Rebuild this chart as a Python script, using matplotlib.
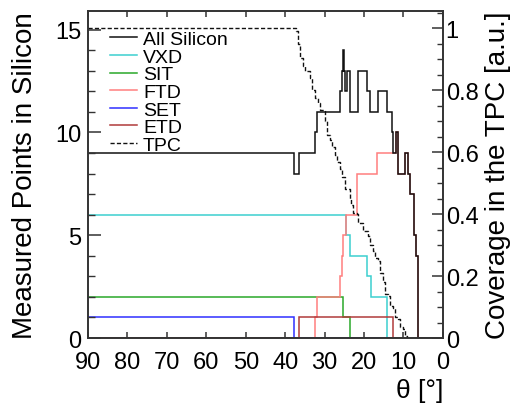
from __future__ import annotations

import matplotlib

matplotlib.use("Agg")
import matplotlib.pyplot as plt
from matplotlib.ticker import MultipleLocator

plt.rcParams["font.family"] = ["Liberation Sans", "DejaVu Sans"]

# step edges in theta (deg, decreasing) and hit counts for each bin
silicon_edges = [90, 37.8, 36.6, 32.4, 32.0, 26.1, 25.7, 25.4, 25.2, 24.8, 24.4, 23.6, 21.6,
                 19.3, 18.5, 16.5, 14.3, 13.0, 12.7, 11.9, 11.5, 11.3, 9.6, 8.9, 8.4, 7.3,
                 6.8, 6.4, 0]
silicon_hits = [9, 8, 9, 10, 11, 12, 13, 14, 13, 12, 13, 11, 13, 12, 11, 12, 11, 10, 9, 10,
                9, 8, 9, 8, 7, 5, 4, 0]

vxd_edges = [90, 24.7, 23.6, 19.3, 18.3, 14.1, 13.0]
vxd_hits = [6, 5, 4, 3, 2, 0]

sit_edges = [90, 25.4, 23.6, 13.0]
sit_hits = [2, 1, 0]

ftd_edges = [90, 32.4, 32.0, 26.1, 25.7, 25.3, 24.6, 21.9, 16.8, 11.9, 11.5, 11.3, 9.6, 8.9,
             8.4, 7.3, 6.8, 6.4, 5.0]
ftd_hits = [0, 1, 2, 3, 4, 5, 6, 8, 9, 10, 9, 8, 9, 8, 7, 5, 4, 0]

set_edges = [90, 37.7, 13.0]
set_hits = [1, 0]

etd_edges = [90, 36.5, 12.7, 9.6]
etd_hits = [0, 1, 0]

tpc_theta = [90, 37.3, 36.7, 36.2, 35.4, 35.0, 33.7, 33.3, 32.4, 31.6, 31.2, 29.9, 29.5, 28.6,
             28.2, 27.4, 26.9, 26.1, 25.7, 24.8, 23.6, 23.2, 22.7, 21.9, 21.5, 20.2, 18.9,
             18.5, 17.7, 17.2, 16.4, 16.0, 15.1, 14.7, 13.8, 13.4, 12.6, 12.2, 11.3, 10.9,
             10.1, 9.6, 9.2, 8.5]
tpc_coverage = [1.0, 0.99, 0.95, 0.905, 0.88, 0.862, 0.84, 0.80, 0.776, 0.76, 0.735, 0.70,
                0.655, 0.64, 0.618, 0.59, 0.57, 0.545, 0.52, 0.48, 0.45, 0.43, 0.405, 0.40,
                0.37, 0.345, 0.33, 0.30, 0.28, 0.26, 0.25, 0.21, 0.18, 0.142, 0.137, 0.104,
                0.098, 0.067, 0.06, 0.035, 0.03, 0.007, 0.0, 0.0]

right_ticks = [0, 0.2, 0.4, 0.6, 0.8, 1.0]
right_labels = ["0", "0.2", "0.4", "0.6", "0.8", "1"]

SPINE = "#333333"


def _stairs(ax, edges, values, color, label, lw=1.1):
  return ax.stairs(values, edges, baseline=None, color=color, linewidth=lw, label=label)


def main() -> None:
  fig = plt.figure(figsize=(5.12, 4.14), dpi=100)
  ax = fig.add_axes([0.172, 0.181, 0.693, 0.790])

  h_vxd = _stairs(ax, vxd_edges, vxd_hits, "#3ccfcf", "VXD")
  h_sit = _stairs(ax, sit_edges, sit_hits, "#2aa82a", "SIT")
  h_ftd = _stairs(ax, ftd_edges, ftd_hits, "#ff7f7f", "FTD")
  h_set = _stairs(ax, set_edges, set_hits, "#2f2fff", "SET")
  h_etd = _stairs(ax, etd_edges, etd_hits, "#b03a3a", "ETD")
  h_all = _stairs(ax, silicon_edges, silicon_hits, "#111111", "All Silicon")

  ax.set_xlim(90, 0)
  ax.set_ylim(0, 15.9)
  ax.set_xticks(range(90, -1, -10))
  ax.set_yticks([0, 5, 10, 15])
  ax.yaxis.set_minor_locator(MultipleLocator(1))
  ax.tick_params(axis="x", which="both", direction="in", top=True, length=4, width=1.1,
                 pad=9, labelsize=17, color=SPINE)
  ax.tick_params(axis="y", which="major", direction="in", length=9, width=1.1, pad=5,
                 labelsize=17, color=SPINE)
  ax.tick_params(axis="y", which="minor", direction="in", length=5, width=1.0, color=SPINE)
  ax.set_ylabel("Measured Points in Silicon", fontsize=20, labelpad=12)
  ax.set_xlabel("θ [°]", fontsize=19, loc="right", labelpad=4)

  ax2 = ax.twinx()
  (h_tpc,) = ax2.plot(tpc_theta, tpc_coverage, drawstyle="steps-post", color="#111111",
                      linewidth=1.0, linestyle=(0, (3, 1.6)), label="TPC")
  ax2.set_ylim(0, 1.056)
  ax2.set_yticks(right_ticks)
  ax2.set_yticklabels(right_labels)
  ax2.yaxis.set_minor_locator(MultipleLocator(0.05))
  ax2.tick_params(axis="y", which="major", direction="in", length=8, width=1.1, pad=2,
                  labelsize=17, color=SPINE)
  ax2.tick_params(axis="y", which="minor", direction="in", length=4.5, width=1.0, color=SPINE)
  ax2.set_ylabel("Coverage in the TPC [a.u.]", fontsize=20, labelpad=5)

  for axis in (ax, ax2):
    for spine in axis.spines.values():
      spine.set_color(SPINE)
      spine.set_linewidth(1.2)

  handles = [h_all, h_vxd, h_sit, h_ftd, h_set, h_etd, h_tpc]
  labels = ["All Silicon", "VXD", "SIT", "FTD", "SET", "ETD", "TPC"]
  ax2.legend(handles, labels, loc="upper left", bbox_to_anchor=(0.062, 0.94), frameon=False,
             borderpad=0, borderaxespad=0, handlelength=1.4, handletextpad=0.3,
             labelspacing=0.0, fontsize=14)

  fig.savefig("out.png", dpi=100)
  plt.close(fig)


if __name__ == "__main__":
  main()
